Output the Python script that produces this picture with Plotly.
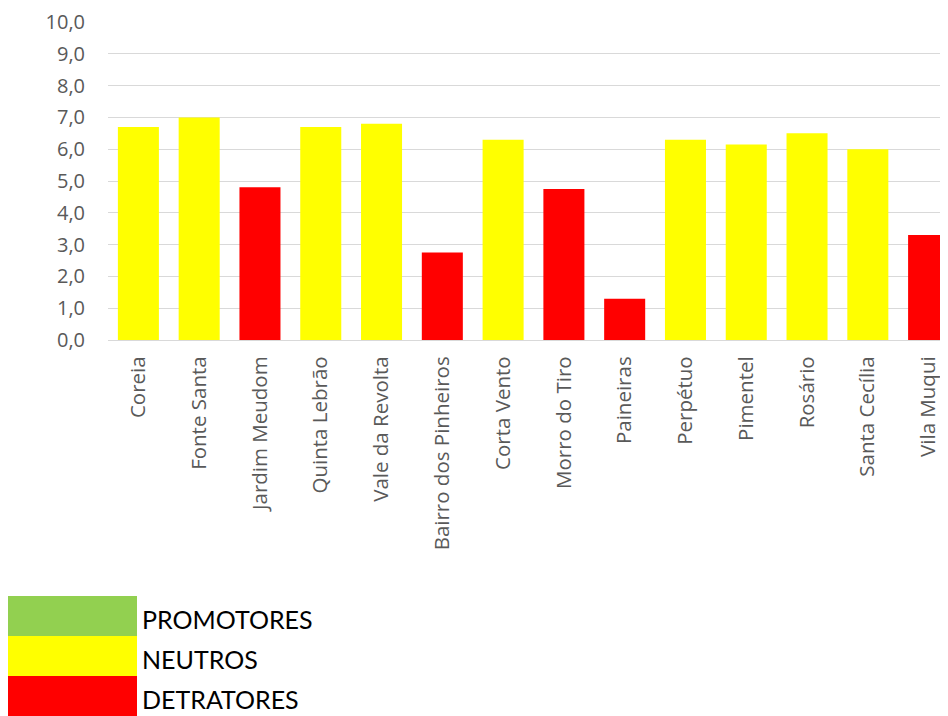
import plotly.graph_objects as go

categories = ["Coreia", "Fonte Santa", "Jardim Meudom", "Quinta Lebrão", "Vale da Revolta",
              "Bairro dos Pinheiros", "Corta Vento", "Morro do Tiro", "Paineiras", "Perpétuo",
              "Pimentel", "Rosário", "Santa Cecília", "Vila Muqui"]
values = [6.7, 7.0, 4.8, 6.7, 6.8, 2.75, 6.3, 4.75, 1.3, 6.3, 6.15, 6.5, 6.0, 3.3]
groups = ["NEUTROS", "NEUTROS", "DETRATORES", "NEUTROS", "NEUTROS", "DETRATORES", "NEUTROS",
          "DETRATORES", "DETRATORES", "NEUTROS", "NEUTROS", "NEUTROS", "NEUTROS", "DETRATORES"]
legend_labels = ["PROMOTORES", "NEUTROS", "DETRATORES"]
legend_colors = ["#92D050", "#FFFF00", "#FF0000"]
y_ticks = [0, 1, 2, 3, 4, 5, 6, 7, 8, 9, 10]
y_tick_labels = ["0,0", "1,0", "2,0", "3,0", "4,0", "5,0", "6,0", "7,0", "8,0", "9,0", "10,0"]

color_map = dict(zip(legend_labels, legend_colors))
bar_colors = [color_map[g] for g in groups]

OFF = 8  # page body margin
W, H = 948 - OFF, 716 - OFF
L, R, T = 108 - OFF, 0, 22 - OFF
ph = 318
B = H - T - ph
pw = W - L - R

fig = go.Figure(go.Bar(x=list(range(len(categories))), y=values, marker_color=bar_colors,
                       marker_line_width=0, width=0.675, showlegend=False))

axis_font = "'Open Sans', sans-serif"
leg_font = "Lato, 'Open Sans', sans-serif"
fig.update_layout(
    width=W, height=H, margin=dict(l=L, r=R, t=T, b=B),
    plot_bgcolor="white", paper_bgcolor="white",
    font=dict(family=axis_font, size=20, color="#595959"),
    bargap=0.325,
)
fig.update_xaxes(
    tickmode="array", tickvals=list(range(len(categories))), ticktext=categories,
    tickangle=-90, range=[-0.5, 13.5 - 11 / 60.78], showgrid=False,
    showline=True, linecolor="#d9d9d9", linewidth=1.3, ticks="", ticklabelstandoff=7,
    tickfont=dict(family=axis_font, size=20.5, color="#595959"),
)
fig.update_yaxes(
    range=[0, 10], tickmode="array", tickvals=y_ticks, ticktext=y_tick_labels,
    showgrid=True, gridcolor="#d9d9d9", gridwidth=1.3, zeroline=False,
    ticks="", ticklabelstandoff=22, tickfont=dict(family=axis_font, size=20, color="#595959"),
)

def px_x(px):
    return (px - OFF - L) / pw

def px_y(py):
    return (H - B - (py - OFF)) / ph

row_h = 40
top0 = 596
for i, (lab, col) in enumerate(zip(legend_labels, legend_colors)):
    y0 = top0 + i * row_h
    fig.add_shape(type="rect", xref="paper", yref="paper",
                  x0=px_x(8), x1=px_x(137), y0=px_y(y0 + row_h), y1=px_y(y0),
                  fillcolor=col, line_width=0)
    fig.add_annotation(xref="paper", yref="paper", x=px_x(140), y=px_y(y0 + row_h / 2 + 3),
                       text=lab, showarrow=False, xanchor="left", yanchor="middle",
                       font=dict(family=leg_font, size=25, color="#000000"))

fig.write_html("out.html")
